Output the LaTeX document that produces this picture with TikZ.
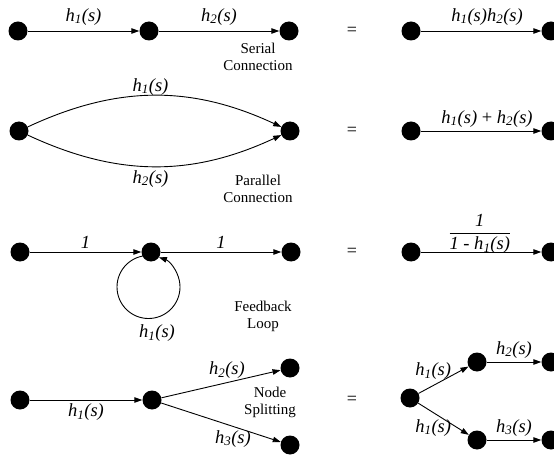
\documentclass[tikz,border=0pt]{standalone}
\usepackage{amsmath}
\usepackage{fontspec}
\setmainfont{Liberation Serif}
\usetikzlibrary{arrows.meta,positioning}

\newcommand{\hs}[1]{\textit{h\textsubscript{#1}(s)}}

\begin{document}
\begin{tikzpicture}[x=1pt, y=1pt,
  every node/.style={font=\fontsize{18.5}{20}\selectfont},
  unit/.style={circle, fill=black, minimum size=19pt, inner sep=0pt},
  arrow/.style={-{Triangle[length=8pt,width=5.5pt]}, line width=0.9pt, color=black},
  lbl/.style={font=\fontsize{18.5}{20}\selectfont},
  capt/.style={font=\fontsize{15}{17}\selectfont, align=center},
  eqsign/.style={font=\fontsize{18}{20}\selectfont}
]
\useasboundingbox (0,0) rectangle (554,-457);

% --- row 1: SERIAL
\begin{scope}[yshift=-31pt]
  \node[unit] (a1) at (18,0)  {};
  \node[unit] (b1) at (149,0) {};
  \node[unit] (c1) at (289,0) {};
  \node[unit] (d1) at (411,0) {};
  \node[unit] (e1) at (551,0) {};
  \draw[arrow] (a1) -- node[lbl, above=2pt] {\hs{1}} (b1);
  \draw[arrow] (b1) -- node[lbl, above=2pt] {\hs{2}} (c1);
  \draw[arrow] (d1) -- node[lbl, above=2pt, pos=0.55] {\hs{1}\hs{2}} (e1);
  \node[eqsign] (q1) at (352,0) {=};
  \node[capt] at (258,-26) {Serial\\Connection};
\end{scope}

% --- row 2: PARALLEL
\begin{scope}[yshift=-131pt]
  \node[unit] (a2) at (19,0)  {};
  \node[unit] (b2) at (290,0) {};
  \node[unit] (d2) at (411,0) {};
  \node[unit] (e2) at (551,0) {};
  \draw[arrow] (a2) to[out=25, in=155]
    node[lbl, above, inner sep=0pt, xshift=-4pt] {\hs{1}} (b2);
  \draw[arrow] (a2) to[out=-25, in=-155]
    node[lbl, below, xshift=-4pt] {\hs{2}} (b2);
  \draw[arrow] (d2) -- node[lbl, above, pos=0.55] {\hs{1} + \hs{2}} (e2);
  \node[eqsign] (q2) at (352,0) {=};
  \node[capt] at (258,-58) {Parallel\\Connection};
\end{scope}

% --- row 3: FEEDBACK
\begin{scope}[yshift=-252pt]
  \node[unit] (a3) at (20,0)  {};
  \node[unit] (b3) at (151,0) {};
  \node[unit] (c3) at (291,0) {};
  \node[unit] (d3) at (411,0) {};
  \node[unit] (e3) at (551,0) {};
  \coordinate (lc) at (148.5,-35);
  \draw[arrow] (a3) -- node[lbl, above] {\textit{1}} (b3);
  \draw[arrow] (b3) -- node[lbl, above] {\textit{1}} (c3);
  \draw[arrow] ([shift={(101:31.5)}]lc) arc[start angle=101, end angle=430.7, radius=31.5];
  \node[lbl] at (157,-81) {\hs{1}};
  \draw[arrow] (d3) -- node[lbl, above, pos=0.49, inner sep=0pt, yshift=-2pt]
    {$\dfrac{\textit{1}}{\textit{1 - h\textsubscript{1}(s)}}$} (e3);
  \node[eqsign] (q3) at (352,0) {=};
  \node[capt] at (263,-64) {Feedback\\Loop};
\end{scope}

% second part
% --- row 4: SPLITTING
\begin{scope}[yshift=-400pt]
  \node[unit] (a4) at (20,0)   {};
  \node[unit] (b4) at (152,0)  {};
  \node[unit] (c4) at (290,32) {};
  \node[unit] (f4) at (290,-45) {};
  \draw[arrow] (a4) -- node[lbl, below] {\hs{1}} (b4);
  \draw[arrow] (b4) -- node[lbl, above, pos=0.55] {\hs{2}} (c4);
  \draw[arrow] (b4) -- node[lbl, below, pos=0.6] {\hs{3}} (f4);
  \node[capt] at (270,-2) {Node\\Splitting};
  \node[eqsign] (q4) at (352,0) {=};
  \node[unit] (d4) at (410,2)   {};
  \node[unit] (g4) at (477,38)  {};
  \node[unit] (h4) at (551,38)  {};
  \node[unit] (k4) at (477,-40) {};
  \node[unit] (m4) at (551,-40) {};
  \draw[arrow] (d4) -- node[lbl, above left, inner sep=0pt, xshift=8pt] {\hs{1}} (g4);
  \draw[arrow] (d4) -- node[lbl, below left, inner sep=0pt, xshift=8pt] {\hs{1}} (k4);
  \draw[arrow] (g4) -- node[lbl, above] {\hs{2}} (h4);
  \draw[arrow] (k4) -- node[lbl, above] {\hs{3}} (m4);
\end{scope}

\end{tikzpicture}
\end{document}
